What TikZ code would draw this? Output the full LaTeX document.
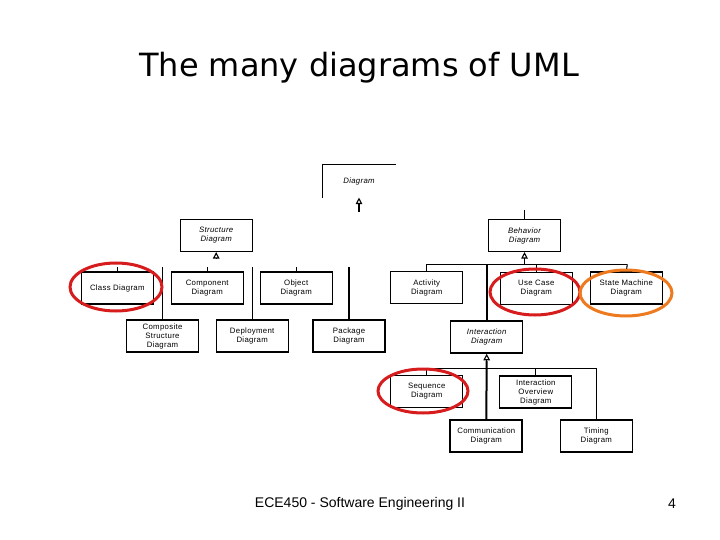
\documentclass[tikz,border=0pt]{standalone}
\usepackage{fontspec}
\setmainfont{Liberation Sans}
\newfontfamily\titlefont{DejaVu Sans}
\newfontfamily\boxfont[LetterSpace=4]{Liberation Sans}
\usetikzlibrary{arrows.meta}
\definecolor{ringred}{RGB}{214,28,28}
\definecolor{ringorange}{RGB}{238,122,32}
\tikzset{
  umlbox/.style={draw, line width=1.1pt, minimum width=72pt, minimum height=32pt, inner sep=0pt, align=center, font=\boxfont\fontsize{7.8}{9}\selectfont},
  abstractbox/.style={umlbox, font=\boxfont\fontsize{7.8}{9}\selectfont\itshape},
  heavybox/.style={umlbox, line width=2pt},
  wire/.style={line width=1.1pt},
  heavywire/.style={line width=2pt},
  genarrow/.style={line width=1.1pt, -{Triangle[open,length=6.5pt,width=6.5pt]}},
  ring/.style={line width=3pt}
}
\begin{document}
\begin{tikzpicture}[x=1pt,y=-1pt]
\useasboundingbox (0,0) rectangle (720,540);
% title and footer
\node[font=\titlefont\fontsize{32}{36}\selectfont] (title) at (359,68) {The many diagrams of UML};
\node[font=\fontsize{14}{16}\selectfont] (footer) at (360,504) {ECE450 - Software Engineering II};
\node[font=\fontsize{14}{16}\selectfont] (pagenum) at (672,504) {4};

% top
\node[umlbox, draw=none, font=\boxfont\fontsize{7.8}{9}\selectfont\itshape] (dg) at (359,181) {Diagram};
\draw[wire] (dg.south west) -- (dg.north west) -- (dg.north east);
\coordinate (dgfoot) at (359,212);
\draw[genarrow] (dgfoot) -- (dg.south);

% structure side
\node[abstractbox] (sd) at (216.2,235.5) {Structure\\Diagram};
\coordinate (sdfoot) at (216.2,259);
\draw[genarrow] (sdfoot) -- (sd.south);

\node[umlbox] (cls) at (117.3,288) {Class Diagram};
\node[umlbox] (cmp) at (207.2,288) {Component\\Diagram};
\node[umlbox] (obj) at (296.2,288) {Object\\Diagram};
\node[umlbox] (csd) at (162.5,336) {Composite\\Structure\\Diagram};
\node[umlbox] (dep) at (252.2,336) {Deployment\\Diagram};
\node[heavybox] (pkg) at (349,336) {Package\\Diagram};

\coordinate (clsstub) at (117.3,267);
\coordinate (cmpstub) at (207.2,267);
\coordinate (objstub) at (296.2,267);
\coordinate (csdstub) at (162.5,267);
\coordinate (depstub) at (252.2,267);
\coordinate (pkgstub) at (349,267);
\draw[wire] (clsstub) -- (cls.north);
\draw[wire] (cmpstub) -- (cmp.north);
\draw[wire] (objstub) -- (obj.north);
\draw[wire] (csdstub) -- (csd.north);
\draw[wire] (depstub) -- (dep.north);
\draw[wire] (pkgstub) -- (pkg.north);

% behavior side
\node[abstractbox] (bd) at (524.5,235.5) {Behavior\\Diagram};
\coordinate (bdtop) at (524.5,210);
\draw[wire] (bdtop) -- (bd.north);
\coordinate (bdbus) at (524.5,264.3);
\draw[genarrow] (bdbus) -- (bd.south);

\node[umlbox] (act) at (426.7,287.5) {Activity\\Diagram};
\node[umlbox] (uc) at (536.3,288.5) {Use Case\\Diagram};
\node[umlbox] (sm) at (626.3,288) {State Machine\\Diagram};
\node[abstractbox, line width=1.5pt] (int) at (486.7,337) {Interaction\\Diagram};

\coordinate (busL) at (426.7,264.3);
\coordinate (busR) at (627.3,264.3);
\coordinate (busI) at (486.7,264.3);
\coordinate (busU) at (536.3,264.3);
\draw[wire] (busL) -- (busR);
\draw[wire] (busL) -- (act.north);
\draw[wire] (busU) -- (uc.north);
\draw[wire] (busR) -- (sm.north);
\draw[heavywire] (busI) -- (int.north);

% interaction children
\node[umlbox] (seq) at (426.7,391.5) {Sequence\\Diagram};
\node[umlbox] (iov) at (535.8,392) {Interaction\\Overview\\Diagram};
\node[heavybox] (com) at (486.3,436) {Communication\\Diagram};
\node[umlbox] (tim) at (596.3,436) {Timing\\Diagram};

\coordinate (ibusL) at (426.7,368.3);
\coordinate (ibusR) at (596.3,368.3);
\coordinate (ibusO) at (535.8,368.3);
\draw[wire] (ibusL) -- (ibusR);
\draw[wire] (ibusL) -- (seq.north);
\draw[wire] (ibusO) -- (iov.north);
\draw[wire] (ibusR) -- (tim.north);
\draw[heavywire] (com.north) -- (486.7,361);
\draw[genarrow] (486.7,362) -- (int.south);

% highlight rings
\draw[ring, ringred] (116,287) ellipse [x radius=46, y radius=24];
\draw[ring, ringred] (535,292) ellipse [x radius=45, y radius=23];
\draw[ring, ringorange] (626,293) ellipse [x radius=46, y radius=23];
\draw[ring, ringred] (423,391) ellipse [x radius=45, y radius=22];
\end{tikzpicture}
\end{document}
